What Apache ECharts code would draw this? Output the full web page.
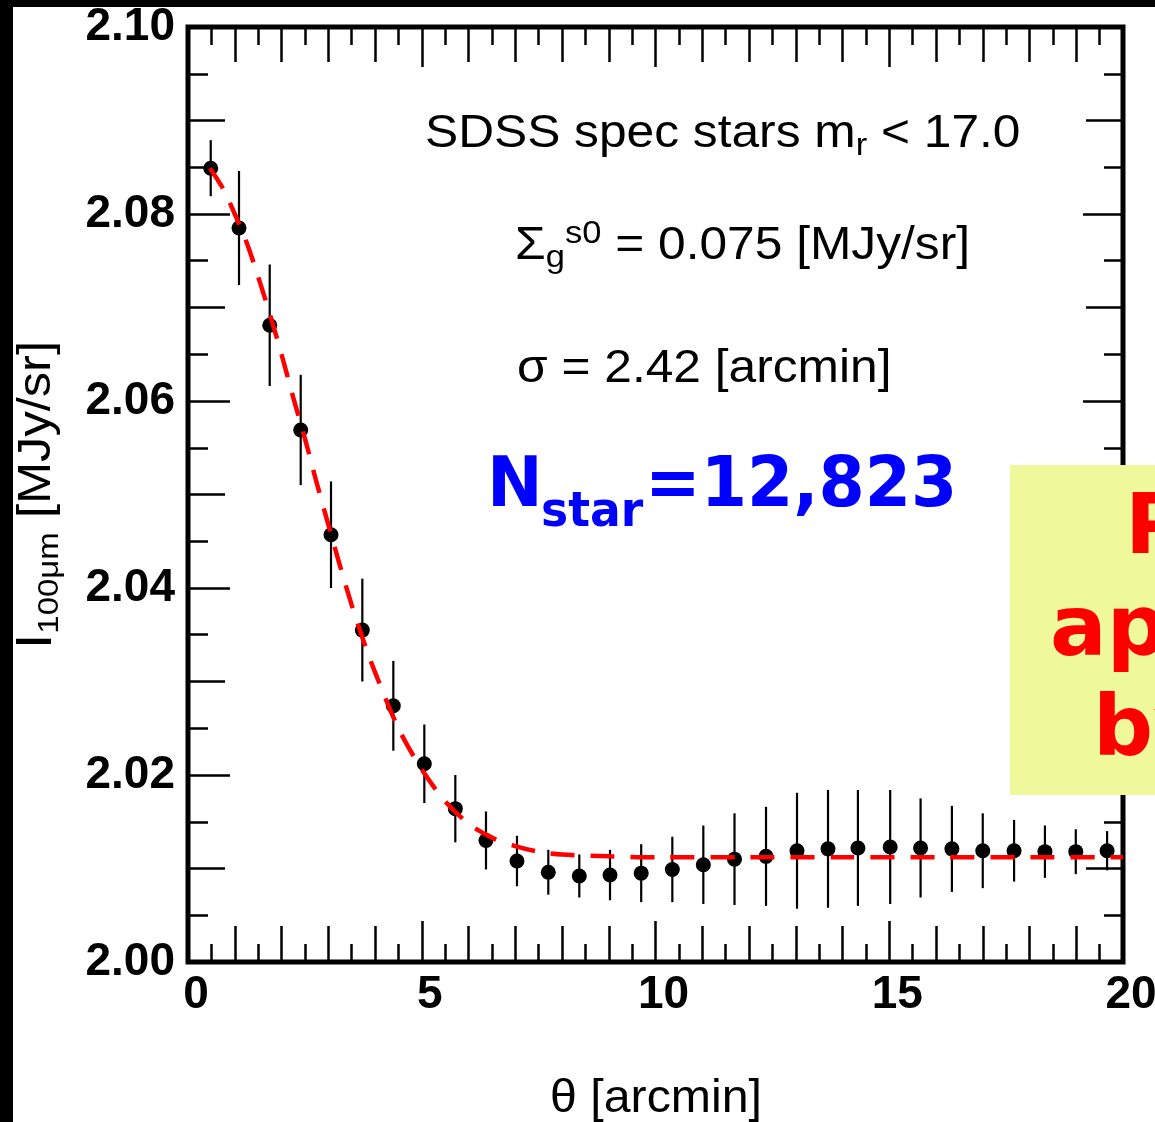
<!DOCTYPE html>
<html><head><meta charset="utf-8">
<script src="https://cdn.jsdelivr.net/npm/echarts/dist/echarts.min.js"></script>
<style>html,body{margin:0;padding:0;background:#fff}#c{width:1155px;height:1122px}</style>
</head><body><div id="c"></div>
<script>
// ---- data ----
const thetaX = [0.486, 1.091, 1.748, 2.411, 3.059, 3.729, 4.392, 5.055, 5.718, 6.374,
  7.037, 7.707, 8.370, 9.027, 9.694, 10.360, 11.023, 11.690, 12.364, 13.027,
  13.69, 14.33, 15.02, 15.67, 16.34, 17.00, 17.67, 18.33, 18.99, 19.66];
const intensity = [2.0849, 2.0785, 2.0681, 2.0569, 2.0457, 2.0355, 2.0274, 2.0212, 2.0164, 2.0130,
  2.0108, 2.0096, 2.0092, 2.0093, 2.0095, 2.0099, 2.0104, 2.0110, 2.0113, 2.0119,
  2.0121, 2.0122, 2.0123, 2.0122, 2.0121, 2.0119, 2.0119, 2.0118, 2.0118, 2.0119];
const errors = [0.0030, 0.0061, 0.0065, 0.0059, 0.0057, 0.0055, 0.0048, 0.0042, 0.0036, 0.0031,
  0.0027, 0.0024, 0.0023, 0.0027, 0.0031, 0.0035, 0.0042, 0.0049, 0.0053, 0.0062,
  0.0063, 0.0062, 0.0061, 0.0053, 0.0046, 0.0040, 0.0033, 0.0028, 0.0024, 0.0021];
const fitX = [0.47, 0.75, 1.0, 1.25, 1.5, 1.75, 2.0, 2.25, 2.5, 2.75, 3.0, 3.25, 3.5, 3.75, 4.0,
  4.5, 5.0, 5.5, 6.0, 6.5, 7.0, 7.5, 8.0, 9.0, 10, 12, 14, 16, 18, 20];
const fitY = [2.0849, 2.0827, 2.0800, 2.0770, 2.0733, 2.0693, 2.0650, 2.0604, 2.0560, 2.0513,
  2.0468, 2.0424, 2.0382, 2.0344, 2.0310, 2.0250, 2.0206, 2.0172, 2.0148, 2.0133,
  2.0124, 2.0118, 2.0115, 2.0113, 2.0112, 2.0112, 2.0112, 2.0112, 2.0112, 2.0112];
const xRange = [0, 20];
const yRange = [2.00, 2.10];
const xLabelTicks = [0, 5, 10, 15, 20];
const yLabelTicks = ['2.00', '2.02', '2.04', '2.06', '2.08', '2.10'];

// ---- chart ----
const chart = echarts.init(document.getElementById('c'), null, {renderer: 'canvas'});
const TICK = {color: '#000', width: 2.5};
const LBL = {fontFamily: 'Liberation Sans', fontWeight: 'bold', fontSize: 46, color: '#000'};

function xAx(pos, interval, len, minorLen, labels) {
  return {
    type: 'value', position: pos, min: xRange[0], max: xRange[1], interval: interval,
    axisLine: {show: false, onZero: false},
    axisTick: {show: true, inside: true, length: len, lineStyle: TICK},
    minorTick: {show: minorLen > 0, splitNumber: 2, length: minorLen, lineStyle: TICK},
    splitLine: {show: false}, minorSplitLine: {show: false},
    axisLabel: labels ? Object.assign({show: true, margin: 10, padding: [0, 0, 0, 16],
      hideOverlap: false, showMinLabel: true, showMaxLabel: true,
      formatter: v => (xLabelTicks.indexOf(Math.round(v)) >= 0 ? String(Math.round(v)) : '')}, LBL)
      : {show: false}
  };
}
function yAx(pos, interval, len, minorLen, labels) {
  return {
    type: 'value', position: pos, min: yRange[0], max: yRange[1], interval: interval,
    axisLine: {show: false, onZero: false},
    axisTick: {show: true, inside: true, length: len, lineStyle: TICK},
    minorTick: {show: minorLen > 0, splitNumber: 2, length: minorLen, lineStyle: TICK},
    splitLine: {show: false}, minorSplitLine: {show: false},
    axisLabel: labels ? Object.assign({show: true, margin: 13, hideOverlap: false,
      showMinLabel: true, showMaxLabel: true,
      formatter: v => {const s = v.toFixed(2); return yLabelTicks.indexOf(s) >= 0 ? s : '';}}, LBL)
      : {show: false}
  };
}

const mainTok = {fontFamily: 'Liberation Sans', fontSize: 46, lineHeight: 56, fill: '#000'};
const subTok = {fontFamily: 'Liberation Sans', fontSize: 32, lineHeight: 32, verticalAlign: 'bottom', fill: '#000'};
const supTok = {fontFamily: 'Liberation Sans', fontSize: 32, lineHeight: 32, verticalAlign: 'top', fill: '#000'};
const BLUE = '#0000ff';

const option = {
  animation: false,
  backgroundColor: '#fff',
  grid: {left: 188, top: 27, width: 935, height: 935, containLabel: false, outerBoundsMode: 'none',
    show: true, borderColor: '#000', borderWidth: 5, backgroundColor: 'transparent'},
  xAxis: [xAx('bottom', 1, 36, 18, false), xAx('bottom', 5, 41, 0, true),
          xAx('top', 1, 35, 18, false), xAx('top', 5, 40, 0, false)],
  yAxis: [yAx('left', 0.01, 37, 20, false), yAx('left', 0.02, 42, 0, true),
          yAx('right', 0.01, 37, 19, false), yAx('right', 0.02, 40, 0, false)],
  series: [
    {
      type: 'custom', xAxisIndex: 0, yAxisIndex: 0, z: 3,
      data: thetaX.map((x, i) => [x, intensity[i] - errors[i], intensity[i] + errors[i]]),
      encode: {x: 0, y: [1, 2]},
      renderItem: function (params, api) {
        const lo = api.coord([api.value(0), api.value(1)]);
        const hi = api.coord([api.value(0), api.value(2)]);
        return {type: 'line', shape: {x1: lo[0], y1: lo[1], x2: hi[0], y2: hi[1]},
          style: {stroke: '#000', lineWidth: 2.2}};
      }
    },
    {
      type: 'scatter', xAxisIndex: 0, yAxisIndex: 0, z: 4,
      data: thetaX.map((x, i) => [x, intensity[i]]),
      symbol: 'circle', symbolSize: 15, itemStyle: {color: '#000', opacity: 1}
    },
    {
      type: 'line', xAxisIndex: 0, yAxisIndex: 0, z: 5,
      data: fitX.map((x, i) => [x, fitY[i]]),
      showSymbol: false, smooth: 0.3,
      lineStyle: {color: '#ff0000', width: 4.5, type: [24, 16]}
    }
  ],
  graphic: [
    {type: 'text', x: 425, y: 106, scaleX: 1.08, z: 10,
      style: {text: '{m|SDSS spec stars m}{s|r}{m| < 17.0}', align: 'left', verticalAlign: 'top',
        rich: {m: mainTok, s: subTok}}},
    {type: 'text', x: 515, y: 218, scaleX: 1.08, z: 10,
      style: {text: '{m|Σ}{s|g}{p|s0}{m| = 0.075 [MJy/sr]}', align: 'left', verticalAlign: 'top',
        rich: {m: mainTok, s: subTok, p: supTok}}},
    {type: 'text', x: 517, y: 341, scaleX: 1.08, z: 10,
      style: {text: '{m|σ = 2.42 [arcmin]}', align: 'left', verticalAlign: 'top',
        rich: {m: mainTok}}},
    {type: 'text', x: 487, y: 488, scaleX: 0.95, z: 10,
      style: {text: 'N', font: 'bold 70px "DejaVu Sans"', fill: BLUE, align: 'left', verticalAlign: 'middle'}},
    {type: 'text', x: 541, y: 514, scaleX: 0.95, z: 10,
      style: {text: 'star', font: 'bold 48px "DejaVu Sans"', fill: BLUE, align: 'left', verticalAlign: 'middle'}},
    {type: 'text', x: 645, y: 488, scaleX: 0.95, z: 10,
      style: {text: '=12,823', font: 'bold 70px "DejaVu Sans"', fill: BLUE, align: 'left', verticalAlign: 'middle'}},
    {type: 'text', x: 656, y: 1099, scaleX: 1.05, z: 10,
      style: {text: 'θ [arcmin]', font: '46px "Liberation Sans"', fill: '#000', align: 'center', verticalAlign: 'middle'}},
    {type: 'text', x: 37, y: 495, rotation: Math.PI / 2, scaleX: 1.1, z: 10,
      style: {text: '{i|I}{s|100μm}{m| [MJy/sr]}', align: 'center', verticalAlign: 'middle',
        rich: {m: mainTok, i: {fontFamily: 'Liberation Sans', fontSize: 50, lineHeight: 56, fill: '#000'},
          s: {fontFamily: 'Liberation Sans', fontSize: 30, lineHeight: 32, verticalAlign: 'bottom', fill: '#000'}}}},
    {type: 'rect', x: 1010, y: 465, z: 11, shape: {width: 200, height: 330}, style: {fill: '#eff89a'}},
    {type: 'text', x: 1125, y: 531, z: 12,
      style: {text: 'P', font: 'bold 84px "DejaVu Sans"', fill: '#ff0000', align: 'left', verticalAlign: 'middle'}},
    {type: 'text', x: 1050, y: 633, z: 12,
      style: {text: 'ap', font: 'bold 84px "DejaVu Sans"', fill: '#ff0000', align: 'left', verticalAlign: 'middle'}},
    {type: 'text', x: 1093, y: 733, z: 12,
      style: {text: 'by', font: 'bold 84px "DejaVu Sans"', fill: '#ff0000', align: 'left', verticalAlign: 'middle'}},
    {type: 'rect', x: 0, y: 0, z: 20, shape: {width: 13, height: 1122}, style: {fill: '#000'}},
    {type: 'rect', x: 0, y: 0, z: 20, shape: {width: 1155, height: 7}, style: {fill: '#000'}}
  ]
};
chart.setOption(option);
</script>
</body></html>
